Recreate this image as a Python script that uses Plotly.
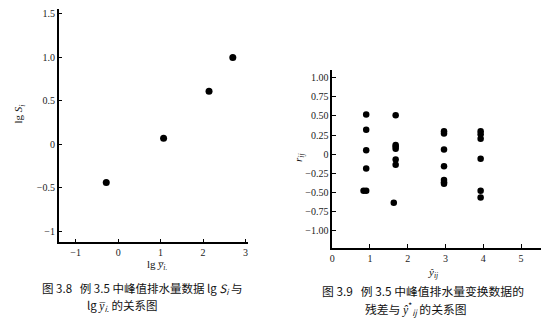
import plotly.graph_objects as go

# Figure 3.8 data: lg(mean y_i) vs lg S_i
lg_ybar = [-0.28, 1.07, 2.14, 2.70]
lg_S = [-0.44, 0.07, 0.61, 1.00]

# Figure 3.9 data: fitted values vs residuals
yhat = [0.90, 0.90, 0.90, 0.90, 0.83, 0.90,
        1.68, 1.68, 1.68, 1.68, 1.68, 1.68, 1.63,
        2.96, 2.96, 2.96, 2.96, 2.96, 2.96, 2.96,
        3.93, 3.93, 3.93, 3.93, 3.93, 3.93]
resid = [0.52, 0.32, 0.05, -0.19, -0.48, -0.48,
         0.51, 0.12, 0.10, 0.07, -0.07, -0.14, -0.64,
         0.30, 0.27, 0.06, -0.16, -0.34, -0.37, -0.39,
         0.30, 0.26, 0.20, -0.06, -0.48, -0.57]

left_xticks = [-1, 0, 1, 2, 3]
left_xtext = ["\u22121", "0", "1", "2", "3"]
left_yticks = [1.5, 1.0, 0.5, 0, -0.5, -1]
left_ytext = ["1.5", "1.0", "0.5", "0", "\u22120.5", "\u22121"]
right_xticks = [0, 1, 2, 3, 4, 5]
right_xtext = ["0", "1", "2", "3", "4", "5"]
right_yticks = [1.0, 0.75, 0.5, 0.25, 0, -0.25, -0.5, -0.75, -1.0]
right_ytext = ["1.00", "0.75", "0.50", "0.25", "0", "\u22120.25", "\u22120.50", "\u22120.75", "\u22121.00"]

W, H = 554, 329
SERIF = "Liberation Serif"
CJK = "Noto Sans CJK SC"

fig = go.Figure()
fig.add_trace(go.Scatter(x=lg_ybar, y=lg_S, mode="markers", xaxis="x", yaxis="y",
                         marker=dict(color="black", size=7), showlegend=False))
fig.add_trace(go.Scatter(x=yhat, y=resid, mode="markers", xaxis="x2", yaxis="y2",
                         marker=dict(color="black", size=6.5), showlegend=False))

axis_common = dict(showgrid=False, zeroline=False, showline=True, linecolor="black",
                   linewidth=1.5, ticks="inside", ticklen=4, tickwidth=1, tickcolor="black",
                   tickfont=dict(family=SERIF, size=10, color="#222"), mirror=False)

fig.update_layout(
    width=W, height=H, margin=dict(l=0, r=0, t=0, b=0),
    paper_bgcolor="white", plot_bgcolor="white",
    xaxis=dict(domain=[56 / W, 246 / W], range=[-1.40, 3.05], anchor="y",
               tickvals=left_xticks, ticktext=left_xtext, **axis_common),
    yaxis=dict(domain=[(H - 242) / H, (H - 8) / H], range=[-1.126, 1.557], anchor="x",
               tickvals=left_yticks, ticktext=left_ytext, **axis_common),
    xaxis2=dict(domain=[331 / W, 541 / W], range=[0, 5.53], anchor="y2",
                tickvals=right_xticks, ticktext=right_xtext, **axis_common),
    yaxis2=dict(domain=[(H - 248) / H, (H - 69) / H], range=[-1.235, 1.105], anchor="x2",
                tickvals=right_yticks, ticktext=right_ytext, **axis_common),
)

def ann(text, x, y, size, family, angle=0, xanchor="center"):
    fig.add_annotation(text=text, x=x / W, y=1 - y / H, xref="paper", yref="paper",
                       showarrow=False, textangle=angle, xanchor=xanchor, yanchor="middle",
                       font=dict(family=family, size=size, color="#111"))

# axis titles
ann("lg <i>S</i><sub><i>i</i></sub>", 16, 113, 11, SERIF, angle=-90)
ann("lg <i>y\u0305</i><sub><i>i</i>.</sub>", 155, 265, 11, SERIF)
ann("<i>r</i><sub><i>ij</i></sub>", 297, 157, 11, SERIF, angle=-90)
ann("<i>\u0177</i><sub><i>ij</i></sub>", 432, 273, 11, SERIF)

# captions
ann("图 3.8   例 3.5 中峰值排水量数据 lg <i>S</i><sub><i>i</i></sub> 与", 37, 288, 11.5, CJK, xanchor="left")
ann("lg <i>y\u0305</i><sub><i>i</i>.</sub> 的关系图", 82, 305, 11.5, CJK, xanchor="left")
ann("图 3.9   例 3.5 中峰值排水量变换数据的", 319, 290, 11.8, CJK, xanchor="left")
ann("残差与 <i>\u0177</i><sup>*</sup><sub><i>ij</i></sub> 的关系图", 362, 308, 11.8, CJK, xanchor="left")

fig.write_html("out.html")
